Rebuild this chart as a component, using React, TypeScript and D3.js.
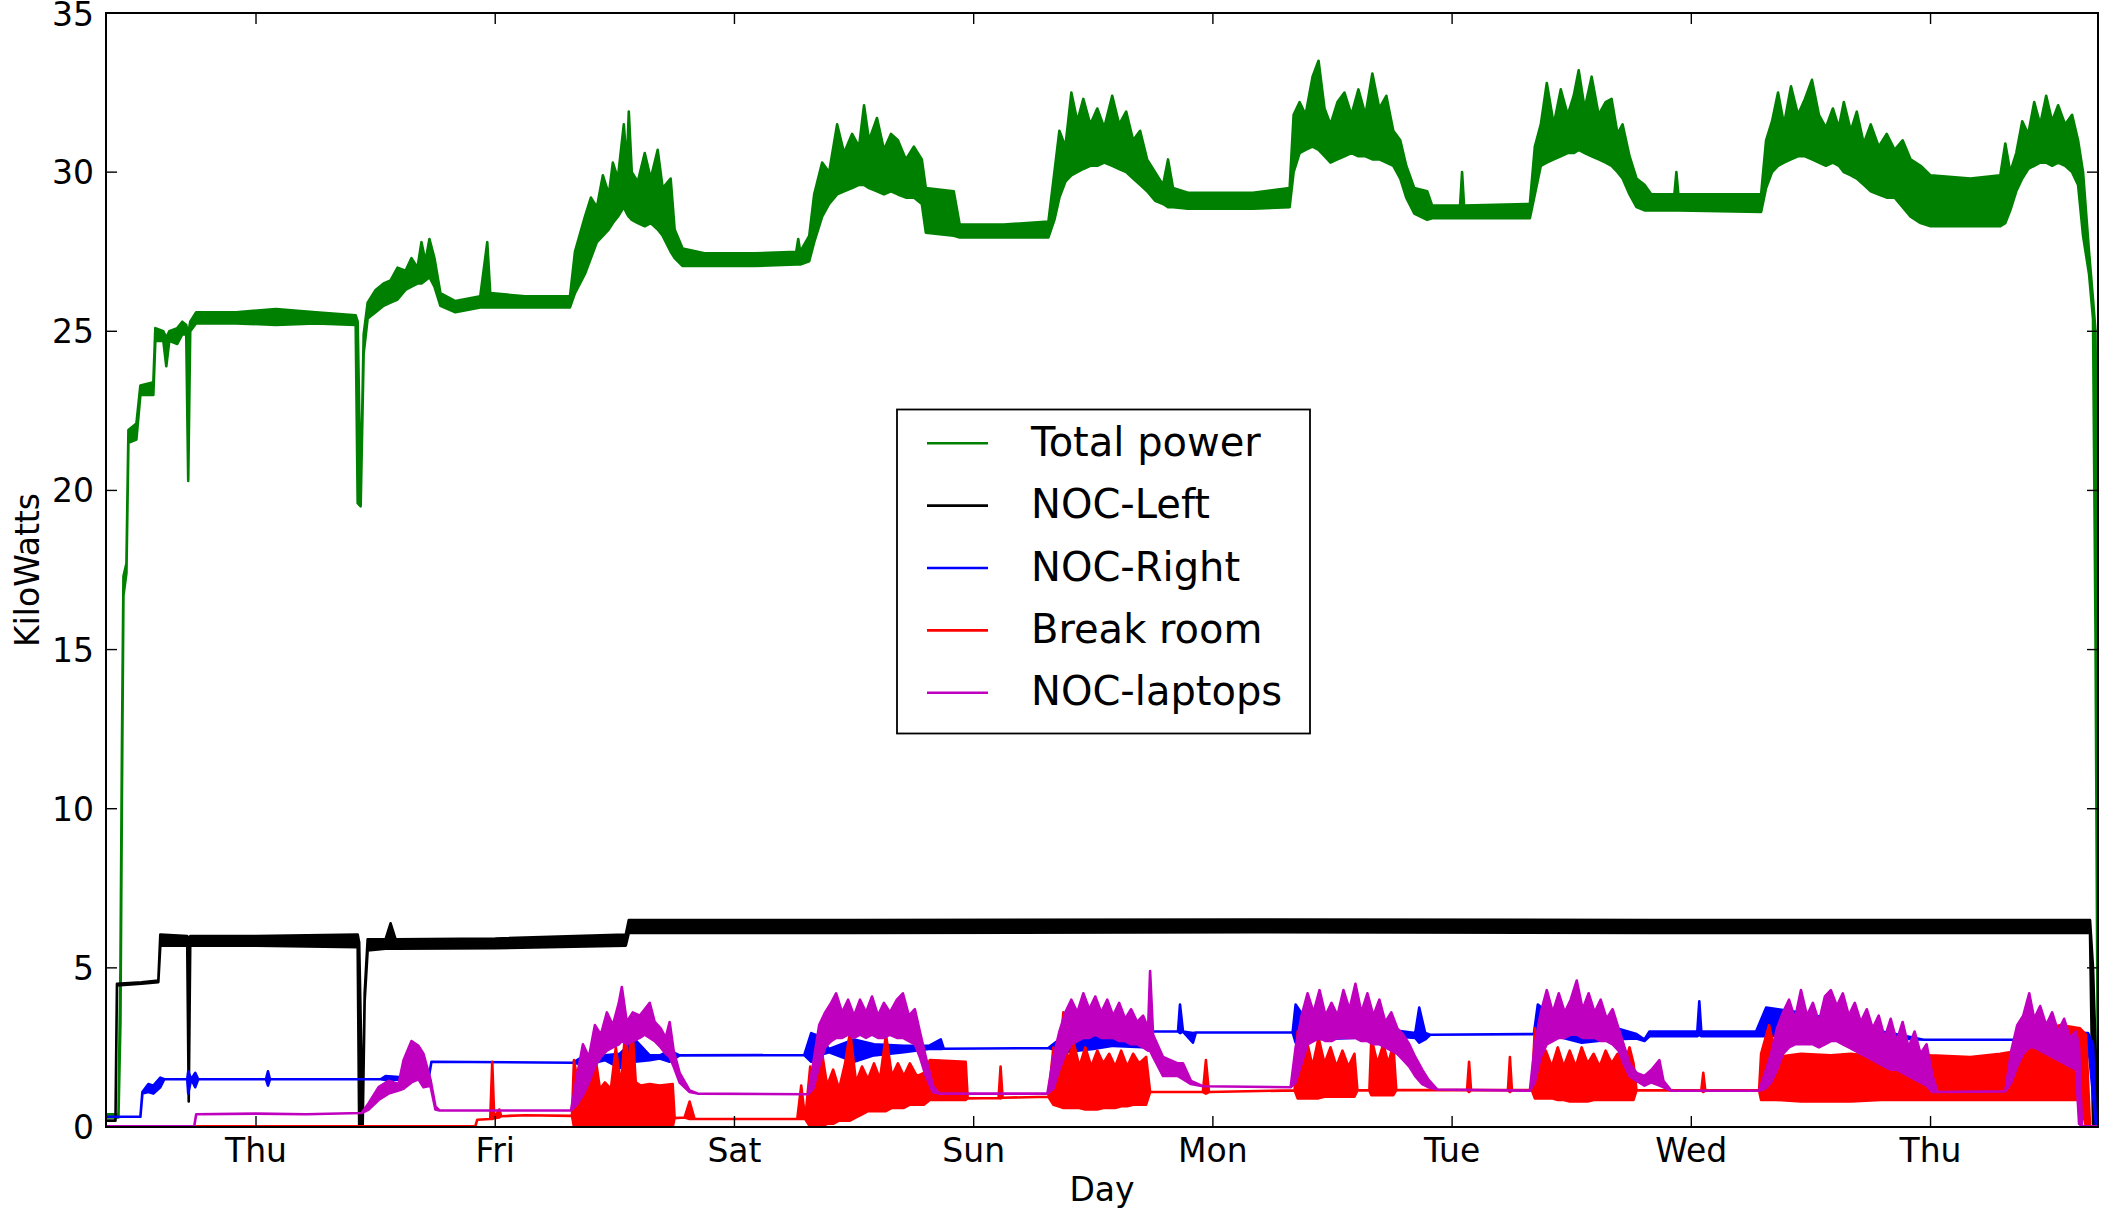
import React, { useEffect, useRef } from 'react';
import * as d3 from 'd3';

// [hours since first Thu 00:00, low kW, high kW] - low/high give the noise band
type Pt = [number, number, number];

const dayLabels = ['Thu', 'Fri', 'Sat', 'Sun', 'Mon', 'Tue', 'Wed', 'Thu'];
const dayTicks = [0, 24, 48, 72, 96, 120, 144, 168];
const kwTicks = [0, 5, 10, 15, 20, 25, 30, 35];

const totalPower: Pt[] = [
  [-15.05, 0.3, 0.4], [-13.8, 0.3, 0.4], [-13.6, 3.3, 5], [-13.45, 10.5, 12], [-13.3, 16.7, 17.3],
  [-13.0, 17.4, 17.7], [-12.8, 21.5, 21.9], [-12.0, 21.6, 22.1], [-11.6, 23.0, 23.3], [-10.3, 23.0, 23.4],
  [-10.1, 24.7, 25.1], [-9.3, 24.7, 25.0], [-9.0, 23.9, 24.8], [-8.7, 24.7, 25.0], [-7.9, 24.6, 25.1],
  [-7.4, 24.9, 25.3], [-7.0, 24.9, 25.2], [-6.8, 20.3, 24.9], [-6.6, 25.0, 25.3], [-6.0, 25.25, 25.6],
  [-2, 25.25, 25.6], [2, 25.2, 25.7], [6, 25.25, 25.6], [10.0, 25.2, 25.5], [10.2, 19.6, 25.3],
  [10.5, 19.5, 19.8], [10.8, 24.3, 24.9], [11.2, 25.4, 25.9], [12.0, 25.6, 26.3], [12.8, 25.8, 26.5],
  [13.5, 25.9, 26.6], [14.2, 26.0, 27.0], [15.0, 26.3, 26.9], [15.6, 26.4, 27.3], [16.2, 26.5, 27.0],
  [16.6, 26.5, 27.8], [17.0, 26.6, 27.2], [17.4, 26.7, 27.9], [17.9, 26.4, 27.3], [18.5, 25.8, 26.2],
  [20.0, 25.6, 25.95], [22.5, 25.75, 26.1], [23.2, 25.75, 27.8], [23.5, 25.75, 26.2], [27, 25.75, 26.1],
  [31.5, 25.75, 26.1], [32.0, 26.2, 27.5], [33.0, 26.8, 28.6], [33.6, 27.3, 29.2], [34.2, 27.8, 28.9],
  [34.8, 28.0, 29.9], [35.4, 28.2, 29.3], [35.8, 28.4, 30.3], [36.3, 28.6, 29.8], [36.9, 28.9, 31.5],
  [37.2, 28.7, 30.2], [37.4, 28.6, 31.9], [37.7, 28.5, 30.0], [38.3, 28.4, 29.7], [39.0, 28.3, 30.6],
  [39.6, 28.4, 29.8], [40.3, 28.2, 30.7], [40.8, 28.0, 29.5], [41.6, 27.5, 29.8], [42.0, 27.3, 28.2],
  [42.8, 27.05, 27.6], [45, 27.05, 27.45], [50, 27.05, 27.45], [54.2, 27.1, 27.5], [54.4, 27.1, 27.9],
  [54.6, 27.1, 27.5], [55.5, 27.2, 28.0], [56.0, 27.8, 29.3], [56.8, 28.6, 30.3], [57.5, 29.0, 30.0],
  [58.3, 29.3, 31.5], [59.0, 29.4, 30.6], [59.8, 29.5, 31.2], [60.5, 29.6, 30.8], [61.0, 29.6, 32.1],
  [61.5, 29.5, 31.0], [62.3, 29.4, 31.7], [63.0, 29.3, 30.7], [63.7, 29.4, 31.2], [64.4, 29.3, 31.0],
  [65.2, 29.2, 30.4], [66.0, 29.2, 30.8], [66.8, 29.0, 30.4], [67.2, 28.1, 29.5], [70.0, 28.0, 29.4],
  [70.6, 27.95, 28.35], [75, 27.95, 28.35], [79.5, 27.95, 28.45], [80.1, 28.5, 30.0], [80.6, 29.2, 31.3],
  [81.2, 29.7, 30.8], [81.8, 29.9, 32.5], [82.4, 30.0, 31.6], [83.0, 30.1, 32.3], [83.7, 30.2, 31.5],
  [84.4, 30.2, 32.0], [85.1, 30.3, 31.4], [85.9, 30.2, 32.4], [86.6, 30.1, 31.5], [87.3, 30.0, 31.9],
  [88.0, 29.8, 31.0], [88.7, 29.6, 31.3], [89.4, 29.4, 30.4], [90.2, 29.1, 30.0], [91.0, 29.0, 29.6],
  [91.5, 28.9, 30.4], [92.0, 28.9, 29.5], [93.5, 28.85, 29.35], [100, 28.85, 29.35], [103.7, 28.9, 29.5],
  [104.1, 30.0, 31.8], [104.7, 30.6, 32.2], [105.3, 30.7, 31.8], [106.0, 30.8, 33.0], [106.6, 30.7, 33.5],
  [107.2, 30.5, 32.0], [107.8, 30.3, 31.5], [108.5, 30.4, 32.2], [109.2, 30.5, 32.5], [109.9, 30.6, 31.8],
  [110.6, 30.5, 32.6], [111.3, 30.5, 31.8], [112.0, 30.4, 33.1], [112.7, 30.4, 32.0], [113.4, 30.3, 32.4],
  [114.1, 30.2, 31.3], [114.8, 29.8, 31.0], [115.4, 29.2, 30.2], [116.2, 28.7, 29.5], [117.5, 28.5, 29.4],
  [118, 28.55, 28.95], [120.8, 28.55, 28.95], [121.0, 28.55, 30.0], [121.2, 28.55, 28.95], [127.8, 28.55, 29.0],
  [128.3, 29.3, 30.8], [128.9, 30.2, 31.5], [129.5, 30.3, 32.8], [130.2, 30.4, 31.5], [130.9, 30.5, 32.6],
  [131.6, 30.6, 31.8], [132.2, 30.6, 32.4], [132.7, 30.7, 33.2], [133.3, 30.6, 32.0], [134.0, 30.5, 33.0],
  [134.7, 30.4, 31.8], [135.4, 30.3, 32.2], [136.0, 30.2, 32.3], [136.6, 30.0, 31.2], [137.1, 29.8, 31.5],
  [137.8, 29.3, 30.5], [138.5, 28.9, 29.8], [139.3, 28.8, 29.6], [140.0, 28.8, 29.3], [142.3, 28.8, 29.3],
  [142.5, 28.8, 30.0], [142.7, 28.8, 29.3], [151.0, 28.75, 29.3], [151.5, 29.5, 31.0], [152.1, 30.0, 31.6],
  [152.7, 30.2, 32.5], [153.3, 30.3, 31.5], [154.0, 30.4, 32.7], [154.7, 30.5, 31.8], [155.4, 30.5, 32.3],
  [156.1, 30.4, 32.9], [156.8, 30.3, 31.8], [157.5, 30.2, 31.4], [158.2, 30.3, 32.0], [158.8, 30.2, 31.4],
  [159.3, 30.0, 32.2], [160.0, 29.9, 31.3], [160.6, 29.8, 31.9], [161.3, 29.6, 30.9], [162.0, 29.4, 31.5],
  [162.8, 29.3, 30.8], [163.6, 29.2, 31.2], [164.4, 29.2, 30.7], [165.2, 28.9, 31.0], [166.0, 28.6, 30.4],
  [167.0, 28.4, 30.2], [168.0, 28.3, 29.9], [172, 28.3, 29.8], [175.0, 28.3, 29.9], [175.5, 28.4, 30.9],
  [176.0, 28.8, 30.0], [176.6, 29.4, 30.6], [177.2, 29.8, 31.6], [177.8, 30.1, 31.2], [178.4, 30.2, 32.2],
  [179.0, 30.3, 31.5], [179.6, 30.3, 32.4], [180.2, 30.2, 31.6], [180.8, 30.3, 32.1], [181.5, 30.2, 31.5],
  [182.2, 30.0, 31.8], [182.8, 29.6, 31.0], [183.3, 28.0, 30.0], [183.9, 26.8, 27.5], [184.3, 25.4, 26.0],
  [184.55, 15.5, 25.0], [184.8, 0.5, 15.5],
];

const nocLeft: Pt[] = [
  [-15.05, 0.2, 0.2], [-14.1, 0.2, 0.2], [-13.95, 4.45, 4.5], [-11.5, 4.5, 4.55], [-9.8, 4.55, 4.6],
  [-9.6, 5.7, 6.05], [-6.9, 5.7, 6.0], [-6.75, 0.8, 5.9], [-6.6, 5.7, 6.0], [0, 5.7, 6.0],
  [10.2, 5.65, 6.05], [10.35, 0.0, 5.8], [10.7, 0.0, 0.1], [10.9, 3.95, 4.2], [11.2, 5.55, 5.9],
  [13.0, 5.6, 5.9], [13.5, 5.6, 6.4], [14, 5.6, 5.9], [24, 5.62, 5.92], [37.1, 5.7, 6.05],
  [37.4, 6.1, 6.5], [60, 6.1, 6.5], [100, 6.12, 6.52], [140, 6.1, 6.5], [184.0, 6.1, 6.5],
  [184.3, 0.1, 5.0], [184.8, 0.0, 0.1],
];

const nocRight: Pt[] = [
  [-15.05, 0.32, 0.32], [-11.6, 0.32, 0.32], [-11.4, 1.05, 1.1], [-10.8, 1.1, 1.35], [-10.3, 1.05, 1.3],
  [-9.6, 1.25, 1.55], [-9.2, 1.5, 1.5], [-6.9, 1.5, 1.5], [-6.8, 1.05, 1.75], [-6.5, 1.5, 1.5],
  [-6.1, 1.25, 1.7], [-5.8, 1.5, 1.5], [1.0, 1.5, 1.5], [1.2, 1.3, 1.75], [1.4, 1.5, 1.5],
  [12.5, 1.5, 1.5], [13, 1.48, 1.6], [17.3, 1.5, 1.5], [17.6, 2.05, 2.05], [31.8, 2.02, 2.02],
  [33.0, 1.95, 2.25], [35.0, 2.1, 2.25], [36.5, 1.85, 2.3], [38.0, 2.05, 2.75], [39.5, 2.1, 2.25],
  [40.5, 2.15, 2.25], [41.5, 2.05, 2.4], [42.5, 2.25, 2.25], [55.0, 2.26, 2.26], [55.7, 2.05, 2.95],
  [56.5, 2.25, 2.85], [57.5, 2.35, 2.45], [60, 2.05, 2.75], [62, 2.25, 2.6], [65.0, 2.35, 2.55],
  [67.5, 2.45, 2.55], [68.7, 2.45, 2.75], [69.0, 2.46, 2.46], [79.5, 2.48, 2.48], [81, 2.35, 2.85],
  [84, 2.45, 3.15], [86, 2.55, 2.85], [89.5, 2.5, 2.8], [89.8, 3.0, 3.0], [92.5, 3.0, 3.0],
  [92.7, 2.95, 3.85], [93.0, 3.0, 3.0], [94.0, 2.65, 2.95], [94.3, 2.97, 2.97], [104.0, 2.97, 2.97],
  [104.3, 2.65, 3.85], [106, 2.75, 3.05], [110, 2.8, 3.25], [114, 2.85, 3.05], [116.3, 2.8, 2.95],
  [116.7, 2.65, 3.75], [117.3, 2.75, 2.95], [117.8, 2.9, 2.9], [128.2, 2.92, 2.92], [128.6, 2.85, 3.85],
  [130.5, 2.85, 3.35], [133, 2.65, 3.35], [136, 2.75, 3.15], [138.5, 2.78, 2.92], [139.3, 2.7, 2.75],
  [139.8, 2.85, 3.0], [144.6, 2.85, 3.0], [144.8, 2.9, 3.95], [145.0, 2.85, 3.0], [150.5, 2.85, 3.0],
  [151.5, 2.85, 3.75], [156, 2.95, 3.55], [160, 2.85, 3.15], [164, 2.8, 2.95], [167.3, 2.74, 2.74],
  [176.5, 2.74, 2.74], [178, 2.65, 3.05], [181, 2.75, 2.95], [183.8, 2.65, 2.95], [184.3, 1.0, 2.6],
  [184.6, 0.05, 0.05], [184.8, 0.05, 0.05],
];

const breakRoom: Pt[] = [
  [-15.05, 0.02, 0.02], [22.0, 0.02, 0.02], [22.2, 0.23, 0.23], [23.5, 0.25, 0.25], [23.7, 0.25, 2.05],
  [23.9, 0.28, 0.28], [24.4, 0.3, 0.55], [24.6, 0.34, 0.34], [27, 0.37, 0.37], [31.7, 0.35, 0.35],
  [31.9, 0.0, 2.1], [32.4, 0.0, 1.2], [32.9, 0.0, 1.6], [33.4, 0.0, 1.1], [34.0, 0.0, 2.3],
  [34.5, 0.0, 1.2], [35.0, 0.0, 1.4], [35.6, 0.0, 1.2], [36.1, 0.0, 2.5], [36.6, 0.0, 1.3],
  [37.1, 0.0, 3.2], [37.4, 0.0, 1.6], [37.7, 0.0, 3.4], [38.1, 0.0, 1.4], [38.6, 0.0, 1.3],
  [39.5, 0.0, 1.35], [40.5, 0.0, 1.3], [41.8, 0.0, 1.35], [42.0, 0.28, 0.28], [43.0, 0.3, 0.3],
  [43.5, 0.25, 0.8], [44, 0.25, 0.25], [54.3, 0.25, 0.25], [54.7, 0.25, 1.3], [55.1, 0.25, 0.25],
  [55.6, 0.0, 1.9], [56.2, 0.0, 1.2], [56.7, 0.0, 2.5], [57.3, 0.1, 1.3], [57.9, 0.1, 1.8],
  [58.5, 0.2, 1.2], [59.1, 0.2, 2.0], [59.6, 0.2, 3.0], [60.2, 0.3, 1.4], [60.8, 0.4, 1.9],
  [61.4, 0.5, 1.5], [62.0, 0.5, 2.0], [62.6, 0.5, 1.5], [63.2, 0.5, 2.9], [63.8, 0.6, 1.6],
  [64.4, 0.6, 2.0], [65.0, 0.6, 1.6], [65.6, 0.7, 2.0], [66.3, 0.7, 1.6], [67.0, 0.7, 1.7],
  [67.6, 0.85, 2.1], [71.2, 0.85, 2.05], [71.4, 0.9, 0.9], [74.5, 0.91, 0.91], [74.7, 0.9, 1.9],
  [74.9, 0.92, 0.92], [79.5, 0.95, 0.95], [80.0, 0.7, 2.5], [80.5, 0.65, 1.8], [81.0, 0.6, 3.6],
  [81.5, 0.6, 2.0], [82.0, 0.6, 2.7], [82.6, 0.6, 1.9], [83.2, 0.55, 2.5], [83.8, 0.55, 1.9],
  [84.4, 0.55, 2.4], [85.0, 0.6, 2.0], [85.6, 0.6, 2.3], [86.2, 0.6, 1.9], [86.8, 0.65, 2.4],
  [87.4, 0.65, 1.9], [88.0, 0.7, 2.3], [88.6, 0.7, 2.0], [89.3, 0.7, 2.2], [89.7, 1.1, 1.1],
  [95.0, 1.1, 1.1], [95.3, 1.05, 2.1], [95.6, 1.1, 1.1], [104.2, 1.15, 1.15], [104.5, 0.9, 3.0],
  [105.0, 0.9, 1.9], [105.5, 0.9, 2.6], [106.0, 0.9, 1.9], [106.6, 0.9, 2.8], [107.2, 0.95, 2.0],
  [107.8, 0.95, 2.5], [108.4, 0.95, 1.9], [109.0, 0.95, 2.4], [109.6, 0.95, 1.9], [110.2, 0.95, 2.3],
  [110.5, 1.15, 1.15], [111.7, 1.15, 1.15], [111.9, 1.0, 2.8], [112.5, 1.0, 2.0], [113.1, 1.0, 2.6],
  [113.6, 1.0, 2.0], [114.1, 1.0, 2.6], [114.4, 1.16, 1.16], [121.5, 1.16, 1.16], [121.7, 1.1, 2.05],
  [121.9, 1.16, 1.16], [125.6, 1.16, 1.16], [125.8, 1.1, 2.2], [126.0, 1.16, 1.16], [128.0, 1.16, 1.16],
  [128.3, 0.9, 3.1], [128.8, 0.9, 2.0], [129.4, 0.9, 2.4], [130.0, 0.9, 1.9], [130.6, 0.85, 2.5],
  [131.2, 0.85, 1.9], [131.8, 0.8, 2.4], [132.4, 0.8, 1.9], [133.0, 0.8, 2.5], [133.6, 0.8, 2.0],
  [134.2, 0.85, 2.3], [134.8, 0.85, 1.9], [135.4, 0.85, 2.4], [136.0, 0.85, 2.0], [136.6, 0.85, 2.3],
  [137.2, 0.85, 1.9], [137.8, 0.85, 2.5], [138.2, 0.85, 2.0], [138.5, 1.15, 1.15], [145.0, 1.15, 1.15],
  [145.2, 1.1, 1.7], [145.4, 1.15, 1.15], [150.8, 1.15, 1.15], [151.0, 0.85, 2.3], [151.8, 0.85, 3.2],
  [152.5, 0.85, 2.2], [155, 0.8, 2.3], [158, 0.8, 2.25], [160, 0.8, 2.3], [163, 0.85, 2.2],
  [166, 0.85, 2.3], [168, 0.85, 2.25], [172, 0.85, 2.2], [175, 0.85, 2.3], [177.0, 0.85, 2.4],
  [178.5, 0.85, 2.6], [179.5, 0.85, 3.1], [181, 0.85, 3.2], [183.0, 0.85, 3.1], [183.6, 0.0, 2.9],
  [184.0, 0.02, 0.02], [184.8, 0.02, 0.02],
];

const nocLaptops: Pt[] = [
  [-15.05, 0.02, 0.02], [-6.2, 0.02, 0.02], [-6.0, 0.4, 0.4], [0, 0.42, 0.42], [5, 0.4, 0.4],
  [10.6, 0.44, 0.44], [11.3, 0.55, 0.75], [12.3, 0.85, 1.25], [13.3, 1.05, 1.45], [14.3, 1.15, 1.35],
  [14.8, 1.2, 2.1], [15.6, 1.4, 2.7], [16.3, 1.5, 2.55], [16.8, 1.25, 2.3], [17.5, 1.3, 1.5],
  [18.0, 0.55, 0.65], [18.4, 0.52, 0.52], [31.6, 0.52, 0.52], [32.2, 0.7, 1.6], [32.8, 1.0, 2.6],
  [33.4, 1.4, 2.2], [34.0, 1.9, 3.2], [34.6, 2.2, 2.9], [35.2, 2.4, 3.6], [35.8, 2.5, 3.2],
  [36.4, 2.6, 3.9], [36.7, 2.7, 4.4], [37.2, 2.6, 3.3], [37.8, 2.7, 3.6], [38.5, 2.8, 3.5],
  [39.0, 2.9, 3.7], [39.5, 2.8, 3.9], [40.0, 2.7, 3.3], [40.6, 2.5, 3.1], [41.1, 2.3, 2.8],
  [41.5, 2.2, 3.3], [41.9, 1.9, 2.4], [42.5, 1.4, 1.7], [43.5, 1.1, 1.15], [44.3, 1.05, 1.05],
  [55.4, 1.03, 1.03], [55.9, 1.2, 2.0], [56.5, 1.9, 3.2], [57.1, 2.5, 3.6], [57.7, 2.7, 3.9],
  [58.2, 2.8, 4.2], [58.8, 2.8, 3.6], [59.4, 2.9, 4.0], [60.0, 2.8, 3.5], [60.6, 2.9, 4.0],
  [61.2, 2.8, 3.6], [61.8, 2.9, 4.1], [62.4, 2.8, 3.5], [63.0, 2.8, 3.9], [63.6, 2.9, 3.6],
  [64.3, 2.8, 4.0], [64.9, 2.8, 4.2], [65.5, 2.7, 3.5], [66.1, 2.6, 3.7], [66.6, 2.2, 3.0],
  [67.2, 1.6, 2.2], [67.9, 1.1, 1.3], [68.5, 1.05, 1.05], [79.4, 1.05, 1.05], [80.0, 1.2, 2.2],
  [80.6, 1.8, 3.0], [81.2, 2.3, 3.6], [81.8, 2.6, 4.0], [82.4, 2.7, 3.6], [83.0, 2.8, 4.2],
  [83.6, 2.8, 3.7], [84.2, 2.9, 4.1], [84.8, 2.8, 3.6], [85.4, 2.8, 4.0], [86.0, 2.8, 3.5],
  [86.6, 2.7, 3.9], [87.2, 2.7, 3.4], [87.8, 2.6, 3.7], [88.4, 2.6, 3.3], [89.0, 2.5, 3.5],
  [89.5, 2.4, 3.1], [89.7, 2.4, 4.9], [90.0, 2.2, 2.9], [91, 1.6, 2.2], [92.5, 1.6, 2.0],
  [93.0, 1.5, 2.0], [93.8, 1.35, 1.45], [95, 1.28, 1.28], [103.8, 1.25, 1.25], [104.3, 1.4, 2.5],
  [104.9, 2.0, 3.5], [105.5, 2.6, 4.2], [106.1, 2.7, 3.6], [106.7, 2.8, 4.3], [107.3, 2.7, 3.5],
  [107.9, 2.7, 3.9], [108.5, 2.8, 3.5], [109.1, 2.8, 4.3], [109.7, 2.8, 3.7], [110.3, 2.8, 4.5],
  [110.9, 2.7, 3.6], [111.5, 2.7, 4.2], [112.1, 2.6, 3.5], [112.7, 2.6, 4.0], [113.3, 2.5, 3.3],
  [113.9, 2.4, 3.6], [114.5, 2.3, 3.1], [115.1, 2.1, 2.9], [115.7, 1.9, 2.6], [116.3, 1.6, 2.2],
  [117.0, 1.35, 1.8], [117.6, 1.25, 1.5], [118.5, 1.18, 1.18], [127.8, 1.14, 1.14], [128.3, 1.4, 2.6],
  [128.9, 2.2, 3.6], [129.5, 2.6, 4.3], [130.1, 2.7, 3.6], [130.7, 2.8, 4.2], [131.3, 2.8, 3.6],
  [131.9, 2.9, 4.0], [132.5, 2.9, 4.6], [133.1, 2.8, 3.7], [133.7, 2.8, 4.2], [134.3, 2.8, 3.6],
  [134.9, 2.7, 4.0], [135.5, 2.7, 3.4], [136.1, 2.6, 3.7], [136.7, 2.4, 3.1], [137.2, 2.0, 2.6],
  [137.8, 1.6, 2.0], [138.5, 1.45, 1.7], [139.3, 1.3, 1.6], [140.0, 1.4, 1.8], [140.8, 1.3, 2.1],
  [141.2, 1.25, 1.45], [142, 1.14, 1.14], [150.8, 1.14, 1.14], [151.4, 1.2, 1.7], [152.0, 1.4, 2.3],
  [152.6, 1.8, 3.1], [153.2, 2.3, 3.6], [153.8, 2.5, 4.0], [154.4, 2.6, 3.4], [155.0, 2.6, 4.3],
  [155.6, 2.6, 3.5], [156.2, 2.6, 3.9], [156.8, 2.5, 3.3], [157.4, 2.6, 4.1], [158.0, 2.7, 4.3],
  [158.6, 2.7, 3.8], [159.2, 2.6, 4.2], [159.8, 2.5, 3.5], [160.4, 2.4, 3.9], [161.0, 2.3, 3.3],
  [161.6, 2.2, 3.7], [162.2, 2.1, 3.1], [162.8, 2.0, 3.5], [163.4, 1.9, 2.8], [164.0, 1.8, 3.4],
  [164.6, 1.8, 2.7], [165.2, 1.7, 3.3], [165.8, 1.6, 2.5], [166.4, 1.5, 3.0], [167.0, 1.4, 2.3],
  [167.6, 1.3, 2.6], [168.2, 1.1, 1.6], [168.7, 1.1, 1.1], [175.5, 1.12, 1.12], [176.1, 1.4, 2.4],
  [176.7, 1.9, 3.2], [177.3, 2.3, 3.5], [177.9, 2.5, 4.2], [178.4, 2.5, 3.4], [179.0, 2.4, 3.8],
  [179.6, 2.3, 3.2], [180.2, 2.2, 3.6], [180.8, 2.1, 3.0], [181.4, 2.0, 3.4], [182.0, 1.9, 2.8],
  [182.6, 1.8, 3.0], [182.9, 0.1, 2.5], [183.2, 0.02, 0.02], [184.8, 0.02, 0.02],
];

const seriesNames = ['Total power', 'NOC-Left', 'NOC-Right', 'Break room', 'NOC-laptops'];
const seriesColors = ['#008000', '#000000', '#0000ff', '#ff0000', '#bf00bf'];
const seriesData = [totalPower, nocLeft, nocRight, breakRoom, nocLaptops];

const App = () => {
  const ref = useRef<SVGSVGElement>(null);

  useEffect(() => {
    const svg = d3.select(ref.current);
    svg.selectAll('*').remove();

    const left = 106, right = 2098, top = 13, bottom = 1127;
    const font = 'DejaVu Sans, sans-serif';

    const x = d3.scaleLinear().domain([-15.05, 184.8]).range([left, right]);
    const y = d3.scaleLinear().domain([0, 35]).range([bottom, top]);

    svg.append('rect').attr('width', 2101).attr('height', 1208).attr('fill', '#fff');

    svg.append('defs').append('clipPath').attr('id', 'plot-clip')
      .append('rect')
      .attr('x', left).attr('y', top)
      .attr('width', right - left).attr('height', bottom - top);

    // Noisy series drawn as a band between low and high readings
    const band = d3.area<Pt>()
      .x(d => x(d[0]))
      .y0(d => y(d[1]))
      .y1(d => y(d[2]));

    const plot = svg.append('g').attr('clip-path', 'url(#plot-clip)');
    seriesData.forEach((data, i) => {
      plot.append('path')
        .attr('d', band(data))
        .attr('fill', seriesColors[i])
        .attr('stroke', seriesColors[i])
        .attr('stroke-width', 2.6)
        .attr('stroke-linejoin', 'round');
    });

    // Frame
    svg.append('rect')
      .attr('x', left).attr('y', top)
      .attr('width', right - left).attr('height', bottom - top)
      .attr('fill', 'none')
      .attr('stroke', '#000')
      .attr('stroke-width', 2);

    const tickLen = 11;
    const ticks = svg.append('g').attr('stroke', '#000').attr('stroke-width', 1.4);
    dayTicks.forEach(t => {
      ticks.append('line').attr('x1', x(t)).attr('x2', x(t)).attr('y1', bottom).attr('y2', bottom - tickLen);
      ticks.append('line').attr('x1', x(t)).attr('x2', x(t)).attr('y1', top).attr('y2', top + tickLen);
    });
    kwTicks.forEach(v => {
      ticks.append('line').attr('x1', left).attr('x2', left + tickLen).attr('y1', y(v)).attr('y2', y(v));
      ticks.append('line').attr('x1', right).attr('x2', right - tickLen).attr('y1', y(v)).attr('y2', y(v));
    });

    svg.append('g').selectAll('text')
      .data(dayTicks)
      .enter()
      .append('text')
      .attr('x', d => x(d))
      .attr('y', bottom + 35)
      .attr('text-anchor', 'middle')
      .style('font-family', font)
      .style('font-size', '33px')
      .attr('fill', '#000')
      .text((d, i) => dayLabels[i]);

    svg.append('g').selectAll('text')
      .data(kwTicks)
      .enter()
      .append('text')
      .attr('x', left - 12)
      .attr('y', d => Math.max(y(d) + 12, 26))
      .attr('text-anchor', 'end')
      .style('font-family', font)
      .style('font-size', '33px')
      .attr('fill', '#000')
      .text(d => d);

    svg.append('text')
      .attr('x', (left + right) / 2)
      .attr('y', 1201)
      .attr('text-anchor', 'middle')
      .style('font-family', font)
      .style('font-size', '33px')
      .text('Day');

    svg.append('text')
      .attr('transform', `translate(39, ${(top + bottom) / 2}) rotate(-90)`)
      .attr('text-anchor', 'middle')
      .style('font-family', font)
      .style('font-size', '33px')
      .text('KiloWatts');

    // Legend
    const legend = svg.append('g');
    legend.append('rect')
      .attr('x', 897).attr('y', 409.5)
      .attr('width', 413).attr('height', 324)
      .attr('fill', '#fff')
      .attr('stroke', '#000')
      .attr('stroke-width', 1.8);

    seriesNames.forEach((name, i) => {
      const ry = 443.3 + i * 62.35;
      legend.append('line')
        .attr('x1', 927).attr('x2', 988)
        .attr('y1', ry).attr('y2', ry)
        .attr('stroke', seriesColors[i])
        .attr('stroke-width', 2.6);
      legend.append('text')
        .attr('x', 1031)
        .attr('y', ry + 12.5)
        .style('font-family', font)
        .style('font-size', '40px')
        .attr('fill', '#000')
        .text(name);
    });
  }, []);

  return (
    <svg
      ref={ref}
      width={2101}
      height={1208}
      style={{ position: 'absolute', left: 0, top: 0, display: 'block' }}
    />
  );
};

export default App;
